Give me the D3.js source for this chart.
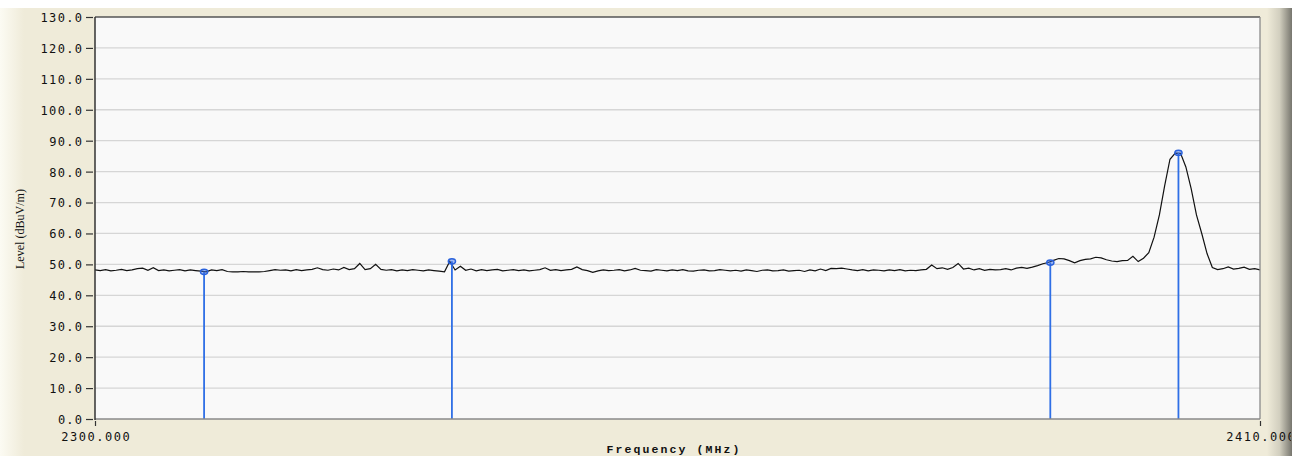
<!DOCTYPE html>
<html><head><meta charset="utf-8">
<script src="https://cdn.jsdelivr.net/npm/d3@7"></script>
<style>
html,body{margin:0;padding:0;background:#fff;}
svg{display:block;}
</style></head>
<body>
<svg id="chart" width="1301" height="460"></svg>
<script>
// ---- data ----
const freqStart = 2300, freqEnd = 2410, freqStep = 0.5;
const levelTrace = [
  48.2, 48.0, 48.3, 47.9, 48.1, 48.4, 48.0, 48.2, 48.6, 48.8,
  48.1, 48.9, 48.0, 48.2, 47.9, 48.1, 48.3, 47.9, 48.2, 48.0,
  47.8, 47.6, 48.2, 48.0, 48.3, 47.7, 47.6, 47.6, 47.7, 47.6,
  47.6, 47.6, 47.7, 48.0, 48.3, 48.1, 48.2, 47.9, 48.3, 48.0,
  48.2, 48.4, 48.9, 48.3, 48.1, 48.5, 48.2, 49.0, 48.3, 48.6,
  50.3, 48.3, 48.6, 50.0, 48.4, 48.1, 48.3, 47.9, 48.2, 48.0,
  48.3, 48.1, 47.9, 48.2, 48.0, 47.8, 47.6, 51.0, 48.2, 49.4,
  48.1, 48.5, 47.9, 48.3, 48.0, 48.2, 48.4, 47.9, 48.1, 48.3,
  48.0, 48.2, 47.9, 48.1, 48.3, 48.9, 48.1, 48.3, 48.0, 48.2,
  48.4, 49.2, 48.3, 48.0, 47.4, 47.9, 48.2, 48.0, 48.1, 48.3,
  47.9, 48.2, 48.7, 48.1, 48.0, 47.8, 48.3, 48.1, 47.9, 48.2,
  48.0, 48.3, 47.9, 47.8, 48.1, 48.2, 47.9, 48.0, 48.3, 48.1,
  47.9, 48.1, 47.8, 48.2, 48.0, 47.7, 48.1, 48.2, 47.9, 48.0,
  48.2, 47.8, 48.0, 48.1, 47.7, 48.2, 47.9, 48.5, 48.0, 48.7,
  48.6, 48.8, 48.5, 48.2, 48.0, 48.3, 47.9, 48.2, 48.1, 47.9,
  48.2, 48.0, 48.3, 47.9, 48.1, 48.0, 48.2, 48.4, 49.8, 48.6,
  48.9, 48.4, 49.0, 50.3, 48.5, 48.8, 48.2, 48.6, 48.1, 48.4,
  48.2, 48.3, 48.6, 48.2, 48.8, 49.0, 48.7, 49.1, 49.6, 50.2,
  50.6, 51.3, 51.9, 51.8, 51.2, 50.5, 51.2, 51.6, 51.8, 52.3,
  52.1, 51.5, 51.1, 50.9, 51.2, 51.3, 52.6, 50.9, 52.0, 53.8,
  58.8, 66.0, 75.5, 84.0, 86.0, 85.9, 81.5, 74.5, 66.0, 60.0,
  53.5, 49.0, 48.3, 48.6, 49.2, 48.5, 48.7, 49.1, 48.4, 48.6,
  48.2
];
const markerFreqs = [2310.3, 2333.7, 2390.2, 2402.3];
const markerLevels = [47.6, 51.0, 50.6, 86.1];
const yTickValues = [0,10,20,30,40,50,60,70,80,90,100,110,120,130];
const xTickValues = [2300, 2410];
const xTitle = "Frequency (MHz)";
const yTitle = "Level (dBuV/m)";

// ---- layout ----
const svg = d3.select("#chart");
const L = 95, R = 1260, T = 17, B = 419;
const x = d3.scaleLinear().domain([freqStart, freqEnd]).range([L, R]);
const y = d3.scaleLinear().domain([0, 130]).range([B, T]);
const CHAR_W = 8.7; // pitch of the wide bitmap-style label font

const defs = svg.append("defs");
const lg = defs.append("linearGradient").attr("id","leftG").attr("x1","0").attr("x2","1");
lg.append("stop").attr("offset","0").attr("stop-color","#fcfbf3");
lg.append("stop").attr("offset","1").attr("stop-color","#efebd9");
const rg = defs.append("linearGradient").attr("id","rightG").attr("x1","0").attr("x2","1");
rg.append("stop").attr("offset","0").attr("stop-color","#efebd9");
rg.append("stop").attr("offset","0.5").attr("stop-color","#d2cfbf");
rg.append("stop").attr("offset","1").attr("stop-color","#77766e");
defs.append("clipPath").attr("id","panelClip").append("rect")
  .attr("x",0).attr("y",0).attr("width",1291).attr("height",460);

// background panel
svg.append("rect").attr("x",0).attr("y",0).attr("width",1301).attr("height",460).attr("fill","#fff");
svg.append("rect").attr("x",0).attr("y",8).attr("width",1291).attr("height",448).attr("fill","#efebd9");
svg.append("rect").attr("x",0).attr("y",8).attr("width",24).attr("height",448).attr("fill","url(#leftG)");
svg.append("rect").attr("x",1267).attr("y",8).attr("width",25).attr("height",448).attr("fill","url(#rightG)");

// plot area
svg.append("rect").attr("x",L).attr("y",T).attr("width",R-L).attr("height",B-T).attr("fill","#f9f9f9");

// gridlines
svg.append("g").selectAll("line").data(yTickValues.filter(d => d > 0 && d < 130)).join("line")
  .attr("x1",L).attr("x2",R).attr("y1",d=>y(d)).attr("y2",d=>y(d))
  .attr("stroke","#d6d6d6").attr("stroke-width",1.3);

// trace
const traceData = levelTrace.map((v,i)=>({f: freqStart + i*freqStep, v}));
svg.append("path").datum(traceData)
  .attr("fill","none").attr("stroke","#111").attr("stroke-width",1.2)
  .attr("d", d3.line().x(d=>x(d.f)).y(d=>y(d.v)));

// markers
const markers = markerFreqs.map((f,i)=>({f, v: markerLevels[i]}));
svg.append("g").selectAll("line").data(markers).join("line")
  .attr("x1",d=>x(d.f)).attr("x2",d=>x(d.f)).attr("y1",d=>y(d.v)).attr("y2",B)
  .attr("stroke","#2f6fe6").attr("stroke-width",1.8);
svg.append("g").selectAll("ellipse").data(markers).join("ellipse")
  .attr("cx",d=>x(d.f)).attr("cy",d=>y(d.v)).attr("rx",3.6).attr("ry",2.6)
  .attr("fill","rgba(60,110,230,0.45)").attr("stroke","#2a62dc").attr("stroke-width",1.5);

// frame
svg.append("line").attr("x1",L).attr("x2",R).attr("y1",T).attr("y2",T).attr("stroke","#555").attr("stroke-width",1.3);
svg.append("line").attr("x1",R).attr("x2",R).attr("y1",T).attr("y2",B).attr("stroke","#8a8a8a").attr("stroke-width",1.3);
svg.append("line").attr("x1",L).attr("x2",R).attr("y1",B).attr("y2",B).attr("stroke","#8a8a8a").attr("stroke-width",1.3);
svg.append("line").attr("x1",L).attr("x2",L).attr("y1",T).attr("y2",B+1).attr("stroke","#333").attr("stroke-width",1.5);

// y axis (ticks via d3 axis, labels drawn wide like the original bitmap font)
const yAxis = d3.axisLeft(y).tickValues(yTickValues).tickFormat(d=>d.toFixed(1)).tickSize(7).tickPadding(3);
const gy = svg.append("g").attr("transform",`translate(${L-2},0)`).call(yAxis);
gy.select(".domain").remove();
gy.selectAll(".tick line").attr("stroke","#333").attr("stroke-width",1.2);
gy.selectAll(".tick text")
  .attr("x", -11).attr("dy","0.37em")
  .attr("font-family","'DejaVu Sans Mono', monospace").attr("font-size","12px").attr("fill","#111")
  .attr("textLength", function(){ return this.textContent.length*CHAR_W - 2; })
  .attr("lengthAdjust","spacing");

// x axis
const xAxis = d3.axisBottom(x).tickValues(xTickValues).tickFormat(d3.format(".3f")).tickSize(5).tickPadding(6);
const gx = svg.append("g").attr("transform",`translate(0,${B+2})`).attr("clip-path","url(#panelClip)").call(xAxis);
gx.select(".domain").remove();
gx.selectAll(".tick line").attr("stroke","#333").attr("stroke-width",1.2);
gx.selectAll(".tick text")
  .attr("font-family","'DejaVu Sans Mono', monospace").attr("font-size","12px").attr("fill","#111")
  .attr("textLength", function(){ return this.textContent.length*CHAR_W - 1; })
  .attr("lengthAdjust","spacing");

// titles
svg.append("text").attr("x", 673).attr("y", 453).attr("text-anchor","middle")
  .attr("font-family","'Liberation Mono', monospace").attr("font-weight","bold").attr("font-size","11.5px")
  .attr("textLength",133).attr("lengthAdjust","spacing").attr("fill","#111").text(xTitle);
svg.append("text").attr("transform","translate(24,229) rotate(-90)").attr("text-anchor","middle")
  .attr("font-family","'Liberation Serif', serif").attr("font-size","11.5px")
  .attr("textLength",80).attr("lengthAdjust","spacingAndGlyphs").attr("fill","#111").text(yTitle);
</script>
</body></html>
